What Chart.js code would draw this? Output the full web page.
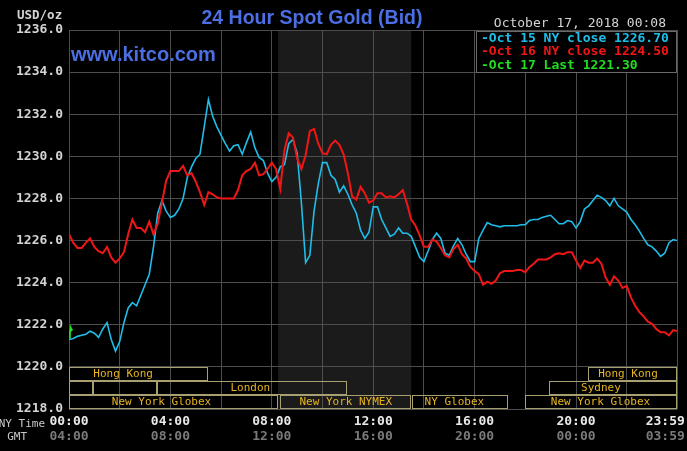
<!DOCTYPE html>
<html><head><meta charset="utf-8">
<script src="https://cdn.jsdelivr.net/npm/chart.js@4.4.1/dist/chart.umd.min.js"></script>
<style>html,body{margin:0;padding:0;background:#000;overflow:hidden}#wrap{position:relative;width:687px;height:451px}</style>
</head><body><div id="wrap"><canvas id="c" width="687" height="451"></canvas></div>
<script>
// ---- data ----
const minutes = [
  0,10,20,30,40,50,60,70,80,90,
  100,110,120,130,140,150,160,170,180,190,
  200,210,220,230,240,250,260,270,280,290,
  300,310,320,330,340,350,360,370,380,390,
  400,410,420,430,440,450,460,470,480,490,
  500,510,520,530,540,550,560,570,580,590,
  600,610,620,630,640,650,660,670,680,690,
  700,710,720,730,740,750,760,770,780,790,
  800,810,820,830,840,850,860,870,880,890,
  900,910,920,930,940,950,960,970,980,990,
  1000,1010,1020,1030,1040,1050,1060,1070,1080,1090,
  1100,1110,1120,1130,1140,1150,1160,1170,1180,1190,
  1200,1210,1220,1230,1240,1250,1260,1270,1280,1290,
  1300,1310,1320,1330,1340,1350,1360,1370,1380,1390,
  1400,1410,1420,1430,1439
];
const oct15Values = [
  1221.3,1221.35,1221.45,1221.5,1221.55,1221.7,1221.6,1221.4,1221.8,1222.1,
  1221.3,1220.75,1221.2,1222.1,1222.8,1223.05,1222.9,1223.4,1223.9,1224.4,
  1225.7,1227.3,1227.9,1227.4,1227.1,1227.2,1227.5,1228.0,1229.0,1229.5,
  1229.9,1230.1,1231.4,1232.7,1231.9,1231.4,1231.0,1230.6,1230.25,1230.5,
  1230.55,1230.1,1230.65,1231.15,1230.4,1229.95,1229.8,1229.2,1228.8,1229.0,
  1229.5,1229.6,1230.6,1230.8,1230.15,1227.8,1224.95,1225.3,1227.4,1228.7,
  1229.7,1229.7,1229.1,1228.9,1228.3,1228.6,1228.2,1227.7,1227.3,1226.5,
  1226.1,1226.4,1227.6,1227.6,1227.0,1226.6,1226.2,1226.3,1226.6,1226.35,
  1226.35,1226.2,1225.7,1225.2,1225.0,1225.5,1226.05,1226.35,1226.1,1225.4,
  1225.3,1225.75,1226.1,1225.8,1225.35,1225.0,1225.0,1226.1,1226.5,1226.85,
  1226.75,1226.7,1226.65,1226.7,1226.7,1226.7,1226.7,1226.75,1226.75,1226.95,
  1227.0,1227.0,1227.1,1227.15,1227.2,1227.0,1226.8,1226.8,1226.95,1226.9,
  1226.6,1226.9,1227.5,1227.65,1227.9,1228.15,1228.05,1227.9,1227.65,1228.0,
  1227.65,1227.5,1227.35,1227.0,1226.75,1226.45,1226.1,1225.8,1225.7,1225.5,
  1225.25,1225.4,1225.9,1226.05,1226.0
];
const oct16Values = [
  1226.3,1225.9,1225.65,1225.65,1225.9,1226.1,1225.7,1225.5,1225.4,1225.7,
  1225.2,1224.95,1225.15,1225.45,1226.3,1227.0,1226.6,1226.6,1226.4,1226.9,
  1226.3,1226.8,1227.8,1228.85,1229.3,1229.3,1229.3,1229.55,1229.1,1229.2,
  1228.8,1228.3,1227.7,1228.3,1228.2,1228.05,1228.0,1228.0,1228.0,1228.0,
  1228.4,1229.1,1229.3,1229.4,1229.7,1229.1,1229.15,1229.4,1229.7,1229.4,
  1228.45,1230.3,1231.1,1230.9,1229.9,1229.4,1230.05,1231.2,1231.3,1230.6,
  1230.15,1230.1,1230.55,1230.75,1230.55,1230.1,1229.2,1228.1,1227.95,1228.55,
  1228.25,1227.8,1227.9,1228.25,1228.25,1228.05,1228.1,1228.05,1228.2,1228.4,
  1227.75,1227.0,1226.7,1226.25,1225.7,1225.7,1226.05,1225.95,1225.65,1225.3,
  1225.2,1225.6,1225.8,1225.35,1225.15,1224.75,1224.55,1224.4,1223.9,1224.05,
  1223.95,1224.1,1224.45,1224.55,1224.55,1224.55,1224.6,1224.6,1224.5,1224.75,
  1224.9,1225.1,1225.1,1225.1,1225.2,1225.35,1225.4,1225.35,1225.45,1225.45,
  1225.05,1224.7,1225.05,1224.95,1224.95,1225.15,1224.9,1224.25,1223.9,1224.3,
  1224.1,1223.75,1223.85,1223.3,1222.9,1222.6,1222.4,1222.15,1222.05,1221.8,
  1221.65,1221.65,1221.5,1221.75,1221.7
];
const oct17Minutes = [0,2,4,6,8];
const oct17Values = [1221.4,1221.6,1221.85,1221.75,1221.8];

const yTicks = [1218,1220,1222,1224,1226,1228,1230,1232,1234,1236];
const xGridMinutes = [0,120,240,360,480,600,720,840,960,1080,1200,1320,1439];
const nyTimeLabels = {0:'00:00',240:'04:00',480:'08:00',720:'12:00',960:'16:00',1200:'20:00',1439:'23:59'};
const gmtLabels   = {0:'04:00',240:'08:00',480:'12:00',720:'16:00',960:'20:00',1200:'00:00',1439:'03:59'};

const nymexShade = [495, 810];
// sessions: row, start minute, end minute, label, label centre minute
const sessionRows = [0,0, 1,1,1,1, 2,2,2,2];
const sessionStarts = [0,1229, 0,57,208,1137, 0,500,812,1080];
const sessionEnds   = [329,1439, 57,208,658,1439, 495,810,1040,1439];
const sessionLabels = ['Hong Kong','Hong Kong','','','London','Sydney','New York Globex','New York NYMEX','NY Globex','New York Globex'];
const sessionLabelAt = [128,1323, 0,0,429,1259, 219,655,912,1258];

const legendTexts = ['-Oct 15 NY close 1226.70','-Oct 16 NY close 1224.50','-Oct 17 Last 1221.30'];
const titleText = '24 Hour Spot Gold (Bid)';
const dateText = 'October 17, 2018 00:08';

// ---- colours ----
const CYAN = '#1fbde8', RED = '#f01616', GREEN = '#22dd22';
const GRID = '#4d4d4d';
const MONO = "'DejaVu Sans Mono', monospace";

function pts(xs, ys){ return ys.map((v,i)=>({x:xs[i], y:v})); }

const decor = {
  id:'decor',
  beforeDraw(chart){
    const {ctx, chartArea:a, scales:{x}} = chart;
    ctx.save();
    ctx.fillStyle = '#000';
    ctx.fillRect(0,0,chart.width,chart.height);
    const x0 = x.getPixelForValue(nymexShade[0]), x1 = x.getPixelForValue(nymexShade[1]);
    ctx.fillStyle = '#1b1b1b';
    ctx.fillRect(x0, a.top, x1-x0, a.bottom-a.top);
    ctx.restore();
  },
  afterDatasetsDraw(chart){
    const {ctx, chartArea:a, scales:{x,y}} = chart;
    ctx.save();
    // session bars
    const top = y.getPixelForValue(1220), bot = y.getPixelForValue(1218);
    const rh = (bot-top)/3;
    ctx.lineWidth = 1;
    ctx.strokeStyle = '#a8a070';
    ctx.font = "11px " + MONO;
    ctx.textAlign = 'center';
    ctx.textBaseline = 'middle';
    for (let i=0;i<sessionRows.length;i++){
      const r = sessionRows[i];
      const xa = Math.round(x.getPixelForValue(sessionStarts[i]))+0.5;
      const xb = Math.round(x.getPixelForValue(sessionEnds[i]))-0.5;
      const ya = Math.round(top + r*rh)+0.5;
      const yb = Math.round(top + (r+1)*rh)-0.5;
      ctx.strokeRect(xa, ya, xb-xa, yb-ya);
    }
    ctx.fillStyle = '#e6b422';
    for (let i=0;i<sessionRows.length;i++){
      if (!sessionLabels[i]) continue;
      const r = sessionRows[i];
      ctx.fillText(sessionLabels[i], x.getPixelForValue(sessionLabelAt[i]), top + (r+0.5)*rh + 0.5);
    }
    // legend box
    ctx.fillStyle = '#000';
    ctx.fillRect(476, 31, 201, 42);
    ctx.strokeStyle = '#6a6a6a';
    ctx.strokeRect(476.5, 31.5, 200, 41);
    ctx.font = "bold 13px " + MONO;
    ctx.textAlign = 'left';
    ctx.textBaseline = 'alphabetic';
    const lc = [CYAN, RED, GREEN];
    for (let i=0;i<legendTexts.length;i++){
      ctx.fillStyle = lc[i];
      ctx.fillText(legendTexts[i], 481, 42 + i*13.4);
    }
    // header texts
    ctx.fillStyle = '#d4d4d4';
    ctx.font = "bold 12.5px " + MONO;
    ctx.fillText('USD/oz', 17, 19);
    ctx.textAlign = 'right';
    ctx.font = "13px " + MONO;
    ctx.fillText(dateText, 666, 27);
    ctx.textAlign = 'center';
    ctx.fillStyle = '#4b6fe3';
    ctx.font = "bold 19.5px 'Liberation Sans', Arial, sans-serif";
    ctx.fillText(titleText, 312, 24);
    ctx.textAlign = 'left';
    ctx.font = "bold 20px 'Liberation Sans', Arial, sans-serif";
    ctx.fillText('www.kitco.com', 71, 61);
    // axis row names
    ctx.textAlign = 'right';
    ctx.fillStyle = '#c8c8c8';
    ctx.font = "11px " + MONO;
    ctx.fillText('NY Time', 45, 427);
    ctx.fillText('GMT', 27, 440);
    ctx.restore();
  }
};

new Chart(document.getElementById('c'), {
  type:'line',
  data:{
    datasets:[
      {label:'Oct 16', data:pts(minutes, oct16Values), borderColor:RED, borderWidth:2, pointRadius:0, tension:0, xAxisID:'x', yAxisID:'y'},
      {label:'Oct 15', data:pts(minutes, oct15Values), borderColor:CYAN, borderWidth:1.6, pointRadius:0, tension:0, xAxisID:'x', yAxisID:'y'},
      {label:'Oct 17', data:pts(oct17Minutes, oct17Values), borderColor:GREEN, borderWidth:2, pointRadius:0, tension:0, xAxisID:'x', yAxisID:'y'}
    ]
  },
  options:{
    responsive:false, animation:false, devicePixelRatio:1,
    layout:{padding:{left:0,right:10,top:30,bottom:0}},
    plugins:{legend:{display:false}, tooltip:{enabled:false}, title:{display:false}},
    scales:{
      x:{type:'linear', position:'bottom', weight:0, min:0, max:1439,
        afterBuildTicks:s=>{ s.ticks = xGridMinutes.map(v=>({value:v})); },
        afterFit:s=>{ s.height = 20; s.paddingLeft = 0; s.paddingRight = 0; },
        grid:{color:GRID, lineWidth:1, drawTicks:false},
        border:{display:false},
        ticks:{autoSkip:false, maxRotation:0, padding:5, color:'#e8e8e8',
          font:{family:MONO, size:13, weight:'bold'},
          callback:v=> v===1439 ? nyTimeLabels[v]+'   ' : (nyTimeLabels[v]||'')}
      },
      x2:{type:'linear', position:'bottom', weight:1, min:0, max:1439,
        afterBuildTicks:s=>{ s.ticks = xGridMinutes.map(v=>({value:v})); },
        afterFit:s=>{ s.height = 22; s.paddingLeft = 0; s.paddingRight = 0; },
        grid:{display:false, drawTicks:false},
        border:{display:false},
        ticks:{autoSkip:false, maxRotation:0, padding:0, color:'#7a7a7a',
          font:{family:MONO, size:13, weight:'bold'},
          callback:v=> v===1439 ? gmtLabels[v]+'   ' : (gmtLabels[v]||'')}
      },
      y:{type:'linear', position:'left', min:1218, max:1236,
        afterBuildTicks:s=>{ s.ticks = yTicks.map(v=>({value:v})); },
        afterFit:s=>{ s.width = 69; s.paddingTop = 0; s.paddingBottom = 0; },
        grid:{color:GRID, lineWidth:1, drawTicks:false},
        border:{display:false},
        ticks:{padding:6, color:'#d4d4d4', font:{family:MONO, size:13, weight:'bold'},
          callback:v=>Number(v).toFixed(1)}
      }
    }
  },
  plugins:[decor]
});
</script></body></html>
